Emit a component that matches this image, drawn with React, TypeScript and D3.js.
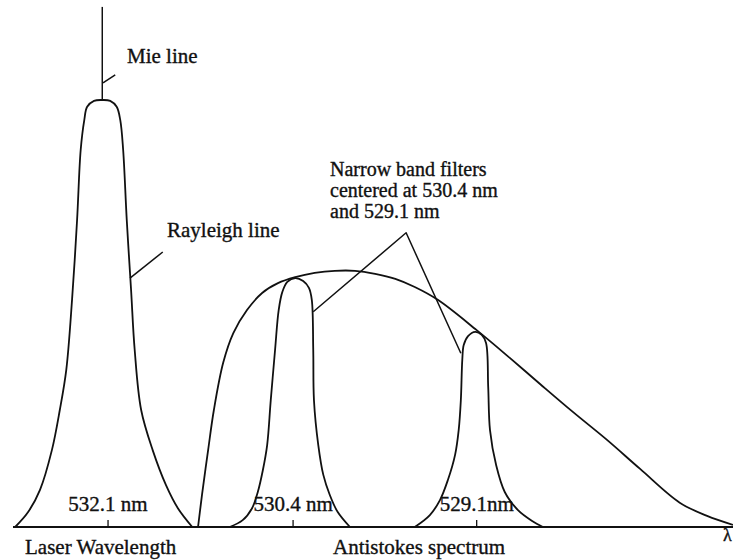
import React from "react";
import * as d3 from "d3";

// Schematic spectrum: x in relative position units (0–100), y in relative intensity (Rayleigh peak = 1)
type Pt = [number, number];

const rayleighLine: Pt[] = [
  [0.3, 0], [2.1, 0.035], [3.75, 0.087], [5.4, 0.18], [6.5, 0.274], [7.4, 0.368],
  [8.2, 0.532], [8.9, 0.719], [9.4, 0.883], [9.9, 0.953], [10.3, 0.984], [11.25, 0.998],
  [12.4, 1.0], [13.5, 0.998], [14.4, 0.984], [14.9, 0.953], [15.3, 0.883], [15.8, 0.719],
  [16.4, 0.555], [16.9, 0.415], [17.8, 0.274], [19.4, 0.18], [21.25, 0.098], [22.9, 0.044],
  [24.9, 0],
];

const antistokesSpectrum: Pt[] = [
  [25.7, 0], [26.25, 0.075], [27.1, 0.18], [27.9, 0.274], [29.2, 0.385], [30.6, 0.454],
  [32.5, 0.508], [34.6, 0.548], [36.8, 0.571], [39.2, 0.585], [41.9, 0.595], [44.7, 0.6],
  [47.5, 0.6], [50.3, 0.593], [53.1, 0.581], [55.8, 0.562], [59.0, 0.532], [64.4, 0.461],
  [69.0, 0.396], [73.2, 0.335], [77.8, 0.269], [82.5, 0.204], [87.1, 0.136],
  [92.6, 0.057], [96.4, 0.026], [100, 0.005],
];

const filter5304: Pt[] = [
  [30.1, 0], [31.9, 0.016], [33.2, 0.044], [34.0, 0.082], [34.7, 0.133], [35.3, 0.192],
  [35.8, 0.297], [36.4, 0.415], [36.9, 0.508], [37.4, 0.55], [38.1, 0.574], [39.2, 0.583],
  [40.3, 0.576], [41.1, 0.56], [41.5, 0.532], [41.7, 0.415], [41.8, 0.297], [42.4, 0.192],
  [43.1, 0.122], [44.0, 0.075], [45.1, 0.035], [46.8, 0],
];

const filter5291: Pt[] = [
  [55.8, 0], [57.9, 0.028], [59.3, 0.063], [60.4, 0.11], [61.4, 0.169], [61.9, 0.227],
  [62.2, 0.297], [62.4, 0.391], [62.6, 0.426], [63.2, 0.447], [64.2, 0.457], [65.1, 0.45],
  [65.7, 0.431], [66.0, 0.328], [66.25, 0.227], [67.1, 0.145], [68.3, 0.082], [70.1, 0.04],
  [72.1, 0.014], [73.6, 0],
];

// Mie line: narrow spike on top of the Rayleigh peak
const mieLine: Pt[] = [[12.4, 1.0], [12.4, 1.218]];

const tickPositions = [13.2, 38.9, 64.4];
const tickLabels = ["532.1 nm", "530.4 nm", "529.1nm"];
const filterNote = ["Narrow band filters", "centered at 530.4 nm", "and 529.1 nm"];

const W = 733;
const H = 560;
const FONT = "'Liberation Serif', 'Times New Roman', serif";
const INK = "#111";

export default function App() {
  const x = d3.scaleLinear().domain([0, 100]).range([13, 733]);
  const y = d3.scaleLinear().domain([0, 1]).range([527, 100]);

  const smooth = d3
    .line<Pt>()
    .x((d) => x(d[0]))
    .y((d) => y(d[1]))
    .curve(d3.curveCatmullRom.alpha(0.5));
  const straight = d3
    .line<Pt>()
    .x((d) => x(d[0]))
    .y((d) => y(d[1]));

  const stroke = { fill: "none", stroke: INK, strokeWidth: 1.8, strokeLinejoin: "round" as const };
  const txt = { fontFamily: FONT, fontSize: 21, fill: INK, stroke: INK, strokeWidth: 0.35 };

  return (
    <svg
      width={W}
      height={H}
      viewBox={`0 0 ${W} ${H}`}
      style={{ position: "absolute", left: 0, top: 0, background: "#fff" }}
    >
      <rect width={W} height={H} fill="#fff" />

      {/* spectral profiles */}
      <path d={smooth(rayleighLine) ?? ""} {...stroke} />
      <path d={straight(mieLine) ?? ""} {...stroke} strokeWidth={1.5} />
      <path d={smooth(antistokesSpectrum) ?? ""} {...stroke} />
      <path d={smooth(filter5304) ?? ""} {...stroke} />
      <path d={smooth(filter5291) ?? ""} {...stroke} />

      {/* wavelength axis */}
      <line x1={x(0)} x2={x(100)} y1={y(0)} y2={y(0)} stroke={INK} strokeWidth={1.9} />
      {tickPositions.map((t, i) => (
        <g key={i}>
          <line x1={x(t)} x2={x(t)} y1={y(0)} y2={y(0) - 7} stroke={INK} strokeWidth={1.3} />
          <text x={x(t)} y={y(0) - 16} textAnchor="middle" {...txt}>
            {tickLabels[i]}
          </text>
        </g>
      ))}
      <text x={x(98.6)} y={y(0) + 14} {...txt} fontSize={18}>
        λ
      </text>

      <text x={25} y={554} {...txt}>
        Laser Wavelength
      </text>
      <text x={333} y={554} {...txt}>
        Antistokes spectrum
      </text>

      {/* Mie line annotation */}
      <path d={straight([[12.5, 1.04], [14.2, 1.059]]) ?? ""} {...stroke} strokeWidth={1.5} />
      <text x={127} y={63} {...txt}>
        Mie line
      </text>

      {/* Rayleigh line annotation */}
      <path d={straight([[16.25, 0.583], [20.8, 0.644]]) ?? ""} {...stroke} strokeWidth={1.5} />
      <text x={167} y={237} {...txt}>
        Rayleigh line
      </text>

      {/* filter annotation */}
      <path
        d={straight([[41.7, 0.504], [54.6, 0.689], [62.2, 0.407]]) ?? ""}
        {...stroke}
        strokeWidth={1.5}
      />
      {filterNote.map((s, i) => (
        <text key={i} x={330} y={176 + i * 21} {...txt} fontSize={20}>
          {s}
        </text>
      ))}
    </svg>
  );
}
